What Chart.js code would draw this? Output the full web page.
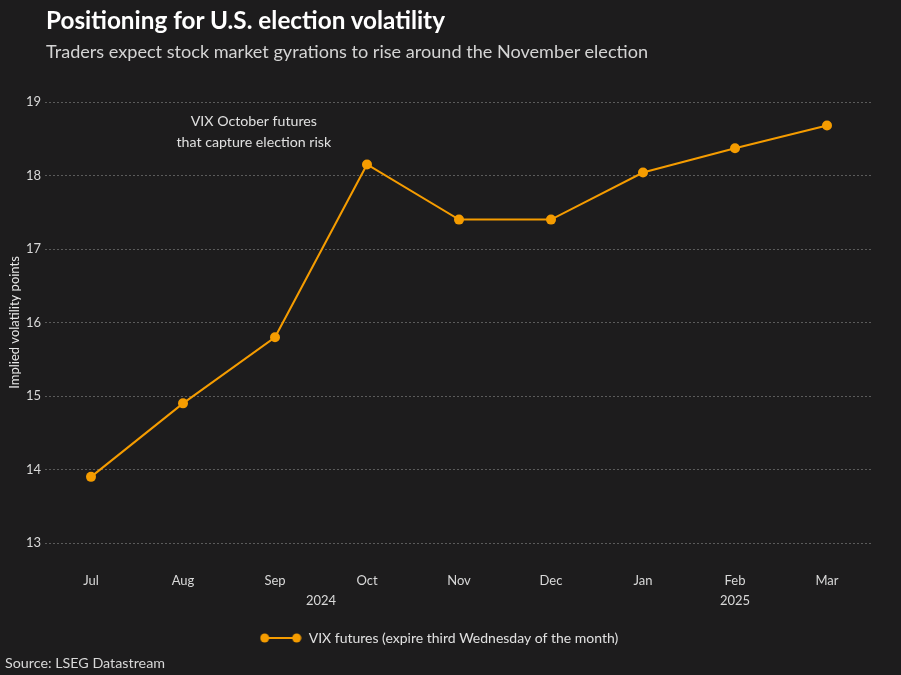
<!DOCTYPE html>
<html>
<head>
<meta charset="utf-8">
<script src="https://cdn.jsdelivr.net/npm/chart.js@4.4.1/dist/chart.umd.min.js"></script>
<style>
  html, body { margin: 0; padding: 0; background: #1d1c1d; }
  #wrap { position: relative; width: 901px; height: 675px; overflow: hidden; }
  #chart { position: absolute; left: 0; top: 0; }
  .txt { position: absolute; font-family: Lato, "Noto Sans", sans-serif; white-space: nowrap; }
  #title { left: 46px; top: 5px; font-size: 24.3px; font-weight: bold; color: #ffffff; }
  #subtitle { left: 46px; top: 40px; font-size: 18.1px; color: #d4d4d4; }
  #source { left: 5px; top: 654px; font-size: 14.3px; color: #d8d8d8; }
</style>
</head>
<body>
<div id="wrap">
  <canvas id="chart" width="901" height="675"></canvas>
  <div class="txt" id="title">Positioning for U.S. election volatility</div>
  <div class="txt" id="subtitle">Traders expect stock market gyrations to rise around the November election</div>
  <div class="txt" id="source">Source: LSEG Datastream</div>
</div>
<script>
// Chart data
const months = ['Jul', 'Aug', 'Sep', 'Oct', 'Nov', 'Dec', 'Jan', 'Feb', 'Mar'];
const vixFutures = [13.9, 14.9, 15.8, 18.15, 17.4, 17.4, 18.04, 18.37, 18.68];
const yearLabels = ['2024', '2025'];
const yearFirstMonth = ['Jul', 'Jan'];
const yearLastMonth = ['Dec', 'Mar'];
const noteLines = ['VIX October futures', 'that capture election risk'];

const orange = '#f59c00';
const fontFamily = 'Lato, "Noto Sans", sans-serif';

// Legend marker: a short line with a dot at each end
const marker = document.createElement('canvas');
marker.width = 42;
marker.height = 12;
(function() {
    const c = marker.getContext('2d');
    c.strokeStyle = orange;
    c.fillStyle = orange;
    c.lineWidth = 2;
    c.beginPath();
    c.moveTo(5, 6);
    c.lineTo(37, 6);
    c.stroke();
    [5, 37].forEach(x => {
        c.beginPath();
        c.arc(x, 6, 4.5, 0, Math.PI * 2);
        c.fill();
    });
})();

// Year labels under the months, and the note above the October point
const extraText = {
    id: 'extraText',
    afterDraw(chart) {
        const ctx = chart.ctx;
        const x = chart.scales.x;
        const y = chart.scales.y;
        ctx.save();
        ctx.textAlign = 'center';
        ctx.textBaseline = 'middle';
        ctx.fillStyle = '#d8d8d8';
        ctx.font = '13px ' + fontFamily;
        yearLabels.forEach((label, i) => {
            const a = x.getPixelForValue(months.indexOf(yearFirstMonth[i]));
            const b = x.getPixelForValue(months.indexOf(yearLastMonth[i]));
            ctx.fillText(label, (a + b) / 2, chart.chartArea.bottom + 58);
        });

        const aug = x.getPixelForValue(1);
        const sep = x.getPixelForValue(2);
        const noteX = aug + (sep - aug) * 0.77;
        ctx.fillStyle = '#e0e0e0';
        ctx.font = '14.2px ' + fontFamily;
        ctx.fillText(noteLines[0], noteX, y.getPixelForValue(18.73));
        ctx.fillText(noteLines[1], noteX, y.getPixelForValue(18.45));
        ctx.restore();
    }
};

const ctx = document.getElementById('chart').getContext('2d');
new Chart(ctx, {
    type: 'line',
    data: {
        labels: months,
        datasets: [{
            label: 'VIX futures (expire third Wednesday of the month)',
            data: vixFutures,
            borderColor: orange,
            backgroundColor: orange,
            borderWidth: 2,
            pointRadius: 5,
            pointHoverRadius: 5,
            pointBackgroundColor: orange,
            pointBorderWidth: 0,
            tension: 0
        }]
    },
    options: {
        responsive: false,
        animation: false,
        devicePixelRatio: 1,
        layout: {
            padding: { top: 102, left: 5, right: 28, bottom: 20 }
        },
        scales: {
            x: {
                offset: true,
                grid: { display: false, drawTicks: false },
                border: { display: false },
                ticks: {
                    color: '#d8d8d8',
                    font: { family: fontFamily, size: 13 },
                    padding: 30,
                    maxRotation: 0
                },
                afterFit(scale) { scale.height = 78; }
            },
            y: {
                min: 13,
                max: 19,
                ticks: {
                    stepSize: 1,
                    color: '#d8d8d8',
                    font: { family: fontFamily, size: 13 },
                    padding: 4
                },
                grid: {
                    color: 'rgba(255,255,255,0.28)',
                    drawTicks: false
                },
                border: { display: false, dash: [2, 2] },
                title: {
                    display: true,
                    text: 'Implied volatility points',
                    color: '#e8e8e8',
                    font: { family: fontFamily, size: 13 },
                    padding: 2
                },
                afterFit(scale) { scale.width = 40; }
            }
        },
        plugins: {
            legend: {
                position: 'bottom',
                labels: {
                    usePointStyle: true,
                    pointStyleWidth: 42,
                    color: '#e0e0e0',
                    font: { family: fontFamily, size: 14 },
                    padding: 10,
                    generateLabels(chart) {
                        const items = Chart.defaults.plugins.legend.labels.generateLabels(chart);
                        items.forEach(item => { item.pointStyle = marker; });
                        return items;
                    }
                }
            },
            tooltip: { enabled: false }
        }
    },
    plugins: [extraText]
});
</script>
</body>
</html>
